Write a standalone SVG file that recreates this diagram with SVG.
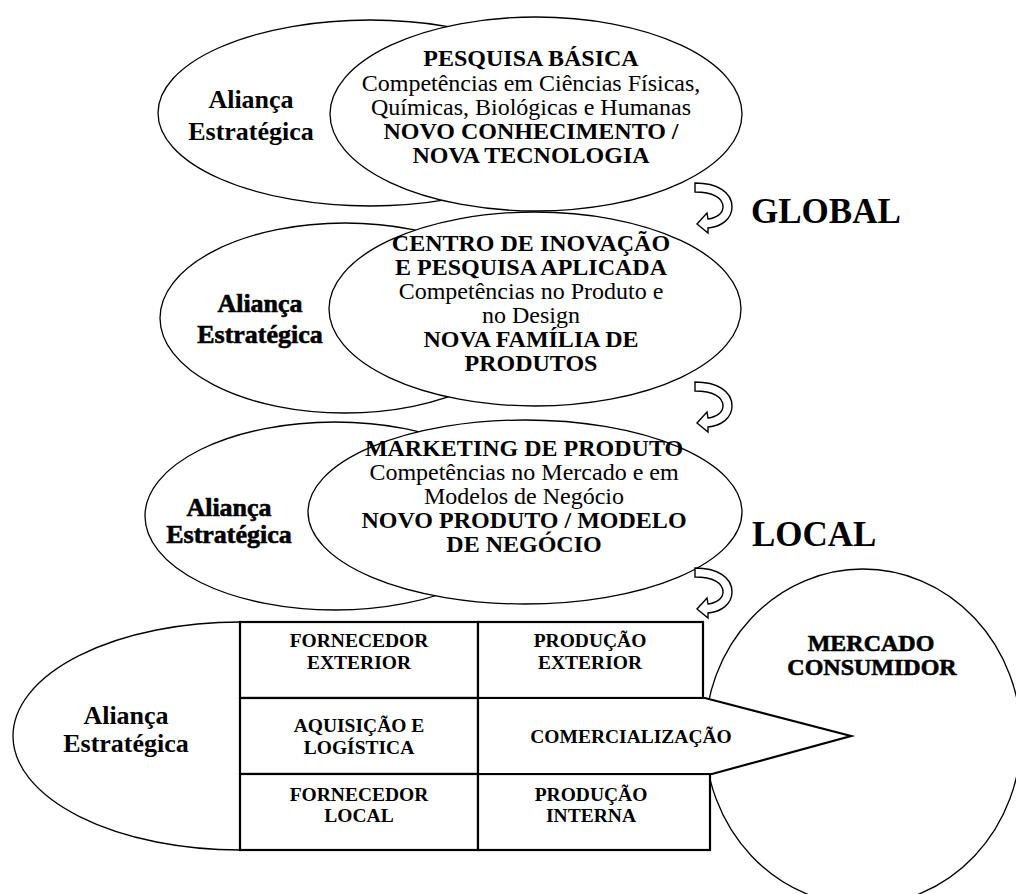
<svg xmlns="http://www.w3.org/2000/svg" width="1016" height="894" viewBox="0 0 1016 894">
  <style>
    .bg { fill: #ffffff; }
    .ell { fill: #ffffff; stroke: #000000; stroke-width: 1.3; }
    .cell { fill: #ffffff; stroke: #000000; stroke-width: 2.2; }
    .turn { fill: #ffffff; stroke: #000000; stroke-width: 1.4; stroke-linejoin: miter; }
    text { font-family: "Liberation Serif", "Times New Roman", serif; fill: #000000; text-anchor: middle; }
    .h { font-size: 24px; font-weight: bold; }
    .b { font-size: 24px; }
    .ally { font-size: 26px; font-weight: bold; }
    .heavy { stroke: #000000; stroke-width: 0.6; }
    .scope { font-size: 35px; font-weight: bold; text-anchor: start; }
    .g { font-size: 19.5px; font-weight: bold; }
  </style>
  <defs>
    <!-- U-turn block arrow, drawn in a 37x50 local box -->
    <path id="uturn" d="M 0,0 C 22,0 37,9 37,24 C 37,36 26,44 13,45 L 13,50 L 2,41 L 12,30 L 13,36 C 22,35 28,30 28,24 C 28,15 18,9 0,9 Z"/>
  </defs>
  <rect class="bg" x="0" y="0" width="1016" height="894"/>

  <!-- Level 1: basic research -->
  <g id="alliance-1">
    <ellipse class="ell" cx="370" cy="113" rx="212" ry="93"/>
    <text class="ally" x="251" y="108">Aliança</text>
    <text class="ally" x="251" y="140">Estratégica</text>
  </g>
  <g id="basic-research">
    <ellipse class="ell" cx="536" cy="114" rx="206" ry="97"/>
    <text class="h" x="531" y="66">PESQUISA BÁSICA</text>
    <text class="b" x="531" y="91">Competências em Ciências Físicas,</text>
    <text class="b" x="531" y="115">Químicas, Biológicas e Humanas</text>
    <text class="h" x="531" y="139">NOVO CONHECIMENTO /</text>
    <text class="h" x="531" y="163">NOVA TECNOLOGIA</text>
  </g>

  <!-- Level 2: innovation centre -->
  <g id="alliance-2">
    <ellipse class="ell" cx="345" cy="318" rx="185" ry="95"/>
    <text class="ally heavy" x="260" y="312">Aliança</text>
    <text class="ally heavy" x="260" y="343">Estratégica</text>
  </g>
  <g id="innovation-centre">
    <ellipse class="ell" cx="535" cy="309" rx="206" ry="97"/>
    <text class="h" x="531" y="251">CENTRO DE INOVAÇÃO</text>
    <text class="h" x="531" y="275">E PESQUISA APLICADA</text>
    <text class="b" x="531" y="299">Competências no Produto e</text>
    <text class="b" x="531" y="323">no Design</text>
    <text class="h" x="531" y="347">NOVA FAMÍLIA DE</text>
    <text class="h" x="531" y="371">PRODUTOS</text>
  </g>

  <!-- Level 3: product marketing -->
  <g id="alliance-3">
    <ellipse class="ell" cx="335" cy="516" rx="190" ry="94"/>
    <text class="ally heavy" x="229" y="516">Aliança</text>
    <text class="ally heavy" x="229" y="543">Estratégica</text>
  </g>
  <g id="product-marketing">
    <ellipse class="ell" cx="525" cy="512" rx="217" ry="92"/>
    <text class="h" x="524" y="456">MARKETING DE PRODUTO</text>
    <text class="b" x="524" y="480">Competências no Mercado e em</text>
    <text class="b" x="524" y="504">Modelos de Negócio</text>
    <text class="h" x="524" y="528">NOVO PRODUTO / MODELO</text>
    <text class="h" x="524" y="552">DE NEGÓCIO</text>
  </g>

  <!-- Scope labels -->
  <g id="label-global"><text class="scope" x="751" y="223">GLOBAL</text></g>
  <g id="label-local"><text class="scope" x="752" y="546">LOCAL</text></g>

  <!-- Consumer market -->
  <g id="consumer-market">
    <ellipse class="ell" cx="863" cy="737" rx="158" ry="168"/>
    <text class="h heavy" x="871" y="651">MERCADO</text>
    <text class="h heavy" x="872" y="675">CONSUMIDOR</text>
  </g>

  <!-- Level 4: operations -->
  <g id="alliance-4">
    <ellipse class="ell" cx="240" cy="736" rx="227" ry="114"/>
    <text class="ally" x="126" y="724">Aliança</text>
    <text class="ally" x="126" y="752">Estratégica</text>
  </g>
  <g id="supplier-foreign">
    <rect class="cell" x="240" y="622" width="238" height="76"/>
    <text class="g" x="359" y="647">FORNECEDOR</text>
    <text class="g" x="359" y="669">EXTERIOR</text>
  </g>
  <g id="production-foreign">
    <rect class="cell" x="478" y="622" width="225" height="76"/>
    <text class="g" x="590" y="647">PRODUÇÃO</text>
    <text class="g" x="590" y="669">EXTERIOR</text>
  </g>
  <g id="procurement">
    <rect class="cell" x="240" y="698" width="238" height="76"/>
    <text class="g" x="359" y="732">AQUISIÇÃO E</text>
    <text class="g" x="359" y="754">LOGÍSTICA</text>
  </g>
  <g id="supplier-local">
    <rect class="cell" x="240" y="774" width="238" height="76"/>
    <text class="g" x="359" y="801">FORNECEDOR</text>
    <text class="g" x="359" y="822">LOCAL</text>
  </g>
  <g id="production-internal">
    <rect class="cell" x="478" y="774" width="232" height="76"/>
    <text class="g" x="591" y="801">PRODUÇÃO</text>
    <text class="g" x="591" y="822">INTERNA</text>
  </g>
  <g id="commercialisation">
    <path class="cell" d="M 478,698 L 705,698 L 851,736 L 712,774 L 478,774 Z"/>
    <text class="g" x="631" y="743">COMERCIALIZAÇÃO</text>
  </g>

  <!-- Connectors: U-turn arrows between levels -->
  <g id="connectors">
    <use href="#uturn" class="turn" transform="translate(695,183)"/>
    <use href="#uturn" class="turn" transform="translate(695,382)"/>
    <use href="#uturn" class="turn" transform="translate(695,568)"/>
  </g>
</svg>
